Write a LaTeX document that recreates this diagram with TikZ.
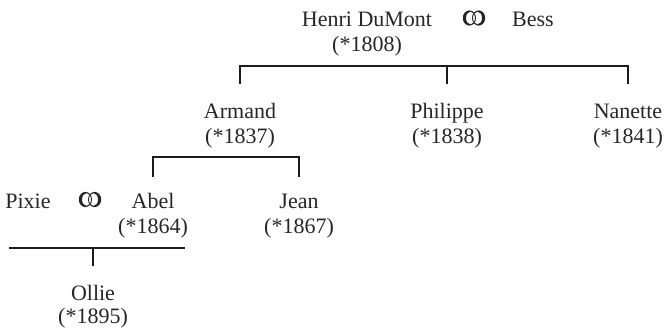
\documentclass[tikz,border=0pt]{standalone}
\usepackage{fontspec}
\setmainfont{Liberation Serif}
\definecolor{ink}{HTML}{262626}
\begin{document}
\begin{tikzpicture}[x=1pt,y=-1pt,
  nm/.style={anchor=base,inner sep=0pt,text=ink,font=\fontsize{22}{24}\selectfont},
  ln/.style={line width=2.4pt,line join=miter,draw=ink!70!black},
  ring/.style={fill=ink,even odd rule}]
\useasboundingbox (0,0) rectangle (672,332);
% generation 1
\node[nm] (henri) at (367,27) {Henri DuMont};
\node[nm] (henriy) at (367,51) {(*1808)};
\node[nm] (bess) at (533,27) {Bess};
\coordinate (m1) at (474,18);
\fill[ring] ([xshift=-4.6pt]m1) ellipse [x radius=6.6pt, y radius=7.6pt]
            ([xshift=-3.5pt]m1) ellipse [x radius=4.5pt, y radius=6.4pt];
\fill[ring] ([xshift=4.6pt]m1) ellipse [x radius=6.6pt, y radius=7.6pt]
            ([xshift=3.5pt]m1) ellipse [x radius=4.5pt, y radius=6.4pt];
% generation 2
\node[nm] (armand) at (240,118) {Armand};
\node[nm] (armandy) at (240,143) {(*1837)};
\node[nm] (philippe) at (447,118) {Philippe};
\node[nm] (philippey) at (447,143) {(*1838)};
\node[nm] (nanette) at (628,118) {Nanette};
\node[nm] (nanettey) at (628,143) {(*1841)};
\coordinate (ta) at (240,84);
\coordinate (tp) at (447,84);
\coordinate (tn) at (628,84);
\draw[ln] (ta) -- ++(0,-18) -| (tn);
\draw[ln] (tp) -- ++(0,-18);
% generation 3
\node[nm] (pixie) at (28,208) {Pixie};
\coordinate (m2) at (90,199.5);
\fill[ring] ([xshift=-4.6pt]m2) ellipse [x radius=6.6pt, y radius=7.6pt]
            ([xshift=-3.5pt]m2) ellipse [x radius=4.5pt, y radius=6.4pt];
\fill[ring] ([xshift=4.6pt]m2) ellipse [x radius=6.6pt, y radius=7.6pt]
            ([xshift=3.5pt]m2) ellipse [x radius=4.5pt, y radius=6.4pt];
\node[nm] (abel) at (153,208) {Abel};
\node[nm] (abely) at (153,233) {(*1864)};
\node[nm] (jean) at (299,208) {Jean};
\node[nm] (jeany) at (299,233) {(*1867)};
\coordinate (la) at (153,177);
\coordinate (lj) at (299,177);
\draw[ln] (la) -- ++(0,-20) -| (lj);
% generation 4
\coordinate (bl) at (9,248);
\coordinate (br) at (185,248);
\coordinate (bo) at (93,266);
\draw[ln] (bl) -- (br);
\draw[ln] (bo) -- (bo |- bl);
\node[nm] (ollie) at (93,300) {Ollie};
\node[nm] (olliey) at (93,323) {(*1895)};
\end{tikzpicture}
\end{document}
